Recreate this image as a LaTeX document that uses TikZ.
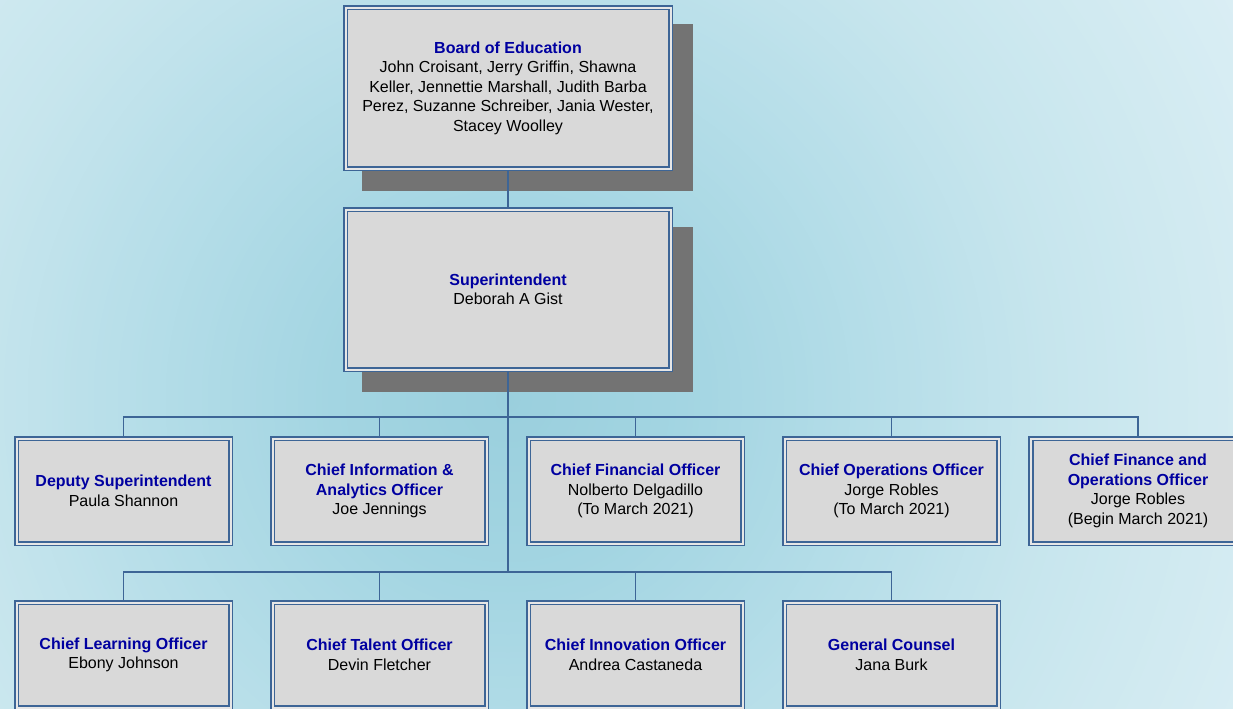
\documentclass[tikz,border=0pt]{standalone}
\usepackage{fontspec}
\setmainfont{Liberation Sans}
\usetikzlibrary{calc}
\definecolor{bordc}{HTML}{3D6596}
\definecolor{fillc}{HTML}{D9D9D9}
\definecolor{gapc}{HTML}{E6E6E6}
\definecolor{ttlc}{HTML}{0000A0}
\definecolor{shdc}{HTML}{737373}
\definecolor{bga}{HTML}{9ACFDD}
\definecolor{bgb}{HTML}{A3D5E2}
\definecolor{bgc}{HTML}{B4DDE8}
\definecolor{bgd}{HTML}{C6E5ED}
\definecolor{bge}{HTML}{DAEEF4}
\pgfdeclarelayer{bg}
\pgfdeclarelayer{lines}
\pgfsetlayers{bg,lines,main}
\newcommand\boxtitle[1]{\textcolor{ttlc}{\textbf{#1}}}
\tikzset{
  orgbox/.style={draw=bordc, line width=1.6*0.75pt, double=gapc, double distance=2*0.75pt,
    fill=fillc, align=center, inner sep=0pt, font=\fontsize{12}{14.6}\selectfont},
  smallbox/.style={orgbox, minimum width=214*0.75pt, minimum height=105*0.75pt},
  bigbox/.style={orgbox, minimum width=325*0.75pt},
  conn/.style={draw=bordc, line width=1.5*0.75pt},
  shadowbox/.style={fill=shdc}
}
\begin{document}
\begin{tikzpicture}[x=0.75pt,y=-0.75pt]
\useasboundingbox (0,0) rectangle (1233,708);
\begin{pgfonlayer}{bg}
  \begin{scope}
    \clip (0,0) rectangle (1233,708);
    \fill[bge] (0,0) rectangle (1233,708);
    \foreach \ro/\ri/\co/\ci in {840/540/bge/bgd, 540/360/bgd/bgc, 360/180/bgc/bgb, 180/0/bgb/bga}{
      \foreach \k in {0,...,29}{
        \pgfmathsetmacro\rr{\ro-(\ro-\ri)*\k/30}
        \pgfmathtruncatemacro\pp{100*\k/30}
        \fill[\ci!\pp!\co] (508,400) circle[radius=\rr];
      }
    }
  \end{scope}
  \fill[shadowbox] (362,24) rectangle (693,191);
  \fill[shadowbox] (362,227) rectangle (693,392);
\end{pgfonlayer}

\node[bigbox, minimum height=161*0.75pt] (board) at (508,88)
  {\boxtitle{Board of Education}\\John Croisant, Jerry Griffin, Shawna\\Keller, Jennettie Marshall, Judith Barba\\Perez, Suzanne Schreiber, Jania Wester,\\Stacey Woolley};
\node[bigbox, minimum height=160*0.75pt] (super) at (508,289.5)
  {\boxtitle{Superintendent}\\Deborah A Gist};

\node[smallbox] (dep)  at (123.5,491) {\boxtitle{Deputy Superintendent}\\Paula Shannon};
\node[smallbox] (cio)  at (379.5,491) {\boxtitle{Chief Information \&}\\\boxtitle{Analytics Officer}\\Joe Jennings};
\node[smallbox] (cfo)  at (635.5,491) {\boxtitle{Chief Financial Officer}\\Nolberto Delgadillo\\(To March 2021)};
\node[smallbox] (coo)  at (891.5,491) {\boxtitle{Chief Operations Officer}\\Jorge Robles\\(To March 2021)};
\node[smallbox] (cfoo) at (1138,491) {\boxtitle{Chief Finance and}\\\boxtitle{Operations Officer}\\Jorge Robles\\(Begin March 2021)};

\node[smallbox] (clo)  at (123.5,655) {\boxtitle{Chief Learning Officer}\\Ebony Johnson};
\node[smallbox] (cto)  at (379.5,655) {\boxtitle{Chief Talent Officer}\\Devin Fletcher};
\node[smallbox] (cino) at (635.5,655) {\boxtitle{Chief Innovation Officer}\\Andrea Castaneda};
\node[smallbox] (gc)   at (891.5,655) {\boxtitle{General Counsel}\\Jana Burk};

\coordinate (j1) at (508,417);
\coordinate (j2) at (508,572);
\begin{pgfonlayer}{lines}
  \draw[conn] (board.south) -- (super.north);
  \draw[conn] (super.south) -- (j2);
  \draw[conn] (dep.north) |- (j1) -| (cfoo.north);
  \draw[conn] (cio.north) -- (cio.north |- j1);
  \draw[conn] (cfo.north) -- (cfo.north |- j1);
  \draw[conn] (coo.north) -- (coo.north |- j1);
  \draw[conn] (clo.north) |- (j2) -| (gc.north);
  \draw[conn] (cto.north) -- (cto.north |- j2);
  \draw[conn] (cino.north) -- (cino.north |- j2);
\end{pgfonlayer}
\end{tikzpicture}
\end{document}
